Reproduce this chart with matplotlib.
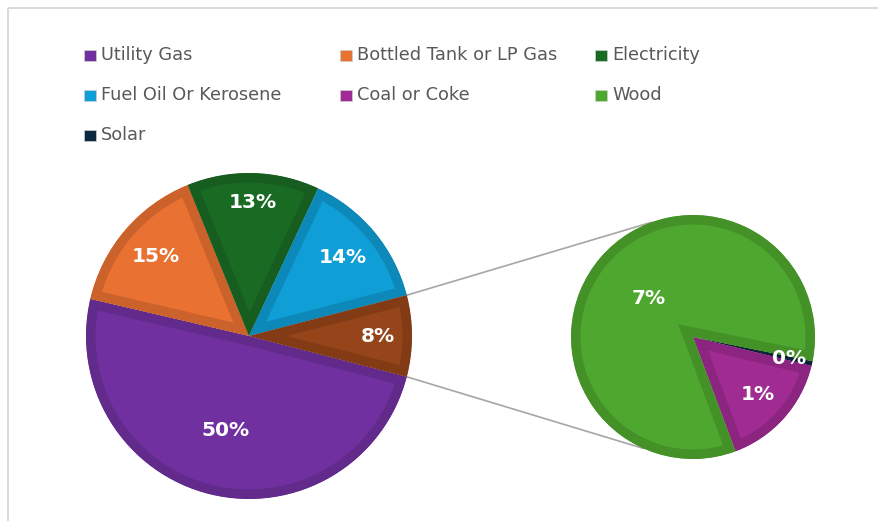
import numpy as np
import matplotlib.pyplot as plt
from matplotlib.patches import Rectangle
from matplotlib.colors import to_rgb

plt.rcParams['font.family'] = ['DejaVu Sans']

# heating fuel share (%), legend order
fuel_types = ['Utility Gas', 'Bottled Tank or LP Gas', 'Electricity',
              'Fuel Oil Or Kerosene', 'Coal or Coke', 'Wood', 'Solar']
share = [49.6, 15.2, 13.1, 14.0, 1.25, 6.75, 0.05]
colors = ['#7030A0', '#E97132', '#196B24', '#0F9ED5', '#A02B93', '#4EA72E', '#0E2841']
other_color = '#964419'

main_order = [0, 1, 2, 3]      # clockwise in the main pie, "other" goes last
small_order = [6, 4, 5]        # clockwise in the breakout pie

W, H = 879, 521
fig = plt.figure(figsize=(W / 100, H / 100), dpi=100)
ax = fig.add_axes([0, 0, 1, 1])

total = sum(share)
other_val = sum(share[i] for i in small_order)


def darker(c, f=0.87):
    r, g, b = to_rgb(c)
    return (r * f, g * f, b * f)


def style_wedges(wedges, cols):
    # inner border: double-width edge clipped to the wedge itself
    for w, c in zip(wedges, cols):
        w.set_facecolor(c)
        w.set_edgecolor(darker(c))
        w.set_linewidth(19 * 0.72)
        w.set_joinstyle('miter')
        w.set_clip_on(True)
        w.set_clip_path(w.get_path(), w.get_transform())


def pct(v):
    return f"{round(v / total * 100):.0f}%"


def put_labels(wedges, vals, center, radius, dists):
    for w, v, d in zip(wedges, vals, dists):
        mid = np.deg2rad((w.theta1 + w.theta2) / 2)
        ax.text(center[0] + d * radius * np.cos(mid), center[1] + d * radius * np.sin(mid),
                pct(v), ha='center', va='center', color='white',
                fontsize=14.5, fontweight='bold')


# main pie
main_c, main_r = (249, H - 336), 163
main_vals = [share[i] for i in main_order] + [other_val]
main_cols = [colors[i] for i in main_order] + [other_color]
other_deg = other_val / total * 360
wm, _ = ax.pie(main_vals, center=main_c, radius=main_r, counterclock=False,
               startangle=-other_deg / 2, colors=main_cols)
style_wedges(wm, main_cols)
put_labels(wm, main_vals, main_c, main_r, [0.6, 0.75, 0.82, 0.75, 0.79])

# breakout pie
small_c, small_r = (693, H - 337), 122
small_vals = [share[i] for i in small_order]
small_cols = [colors[i] for i in small_order]
head = (small_vals[0] + small_vals[1]) / other_val * 360
ws, _ = ax.pie(small_vals, center=small_c, radius=small_r, counterclock=False,
               startangle=-69.6 + head, colors=small_cols)
style_wedges(ws, small_cols)
put_labels(ws, small_vals, small_c, small_r, [0.81, 0.71, 0.48])

# connector lines from the "other" slice to the breakout pie
ow = wm[-1]
for a_main, a_small in [(ow.theta2, 110), (ow.theta1, 246)]:
    p0 = (main_c[0] + main_r * np.cos(np.deg2rad(a_main)),
          main_c[1] + main_r * np.sin(np.deg2rad(a_main)))
    p1 = (small_c[0] + small_r * np.cos(np.deg2rad(a_small)),
          small_c[1] + small_r * np.sin(np.deg2rad(a_small)))
    ax.plot([p0[0], p1[0]], [p0[1], p1[1]], color='#A6A6A6', lw=1.2, zorder=0)

# legend, three columns
col_x = [84, 340, 595]
row_y = [55, 95, 135]
for k, (name, c) in enumerate(zip(fuel_types, colors)):
    x = col_x[k % 3]
    y = H - row_y[k // 3]
    ax.add_patch(Rectangle((x, y - 5.5), 12, 11, facecolor=c, edgecolor='#D0D0D0', lw=0.5))
    ax.text(x + 17, y, name, ha='left', va='center', color='#595959', fontsize=12.8)

# chart area frame (top and left edges only reach into view)
ax.plot([8, W], [H - 7.5, H - 7.5], color='#D9D9D9', lw=1.4, solid_capstyle='butt')
ax.plot([8, 8], [0, H - 7.5], color='#D9D9D9', lw=1.4, solid_capstyle='butt')

ax.set_xlim(0, W)
ax.set_ylim(0, H)
ax.set_aspect('equal')
ax.axis('off')

fig.savefig('out.png', dpi=100)
